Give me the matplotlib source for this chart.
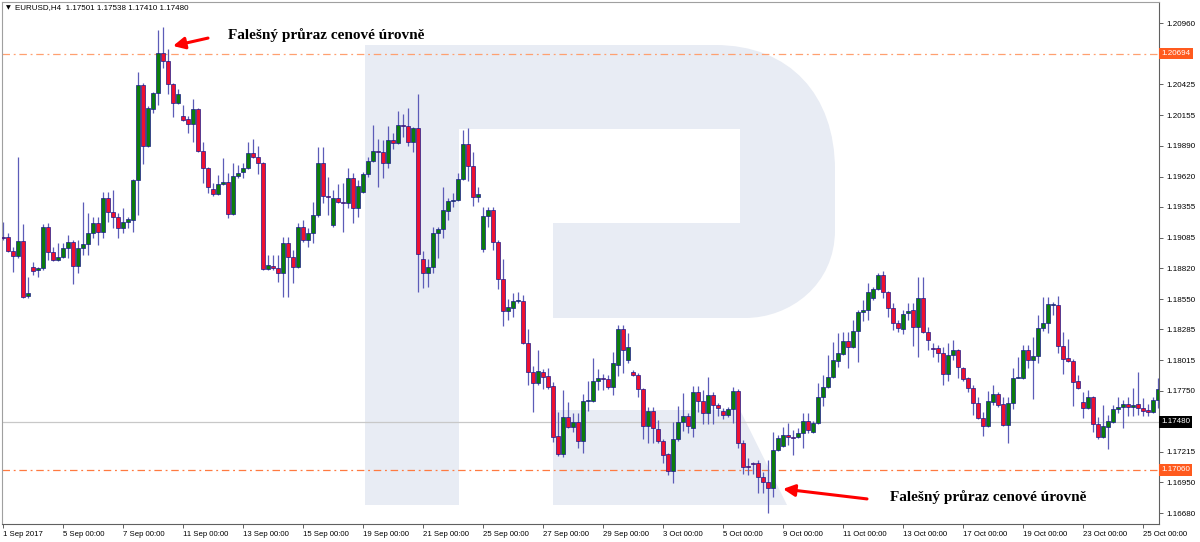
import matplotlib
matplotlib.use("Agg")
import matplotlib.pyplot as plt
import matplotlib.patches as mpatches
import matplotlib.transforms as mtransforms
from matplotlib.path import Path
import numpy as np

plt.rcParams['font.family'] = ['Liberation Sans', 'DejaVu Sans']

# ---------------- data ----------------
symbol = "EURUSD,H4"
header_ohlc = ["1.17501", "1.17538", "1.17410", "1.17480"]

date_labels = ["1 Sep 2017", "5 Sep 00:00", "7 Sep 00:00", "11 Sep 00:00", "13 Sep 00:00",
               "15 Sep 00:00", "19 Sep 00:00", "21 Sep 00:00", "25 Sep 00:00", "27 Sep 00:00",
               "29 Sep 00:00", "3 Oct 00:00", "5 Oct 00:00", "9 Oct 00:00", "11 Oct 00:00",
               "13 Oct 00:00", "17 Oct 00:00", "19 Oct 00:00", "23 Oct 00:00", "25 Oct 00:00"]
bars_per_label = 12  # two trading days of H4 bars between date labels

price_ticks = [1.20960, 1.20425, 1.20155, 1.19890, 1.19620, 1.19355, 1.19085, 1.18820,
               1.18550, 1.18285, 1.18015, 1.17750, 1.17215, 1.16950, 1.16680]
level_top = 1.20694
level_bottom = 1.17060
bid_price = 1.17480
annotation_text = "Falešný průraz cenové úrovně"

opens = [
    1.19092, 1.19092, 1.18970, 1.18927, 1.19057, 1.18577, 1.18830, 1.18804, 1.18821, 1.19179,
    1.18962, 1.18891, 1.18918, 1.18996, 1.19049, 1.18839, 1.18996, 1.19031, 1.19127, 1.19214,
    1.19136, 1.19432, 1.19311, 1.19267, 1.19170, 1.19223, 1.19240, 1.19590, 1.20419, 1.19887,
    1.20210, 1.20349, 1.20699, 1.20628, 1.20428, 1.20262, 1.20149, 1.20122, 1.20078, 1.20209,
    1.19843, 1.19694, 1.19511, 1.19467, 1.19555, 1.19573, 1.19293, 1.19625, 1.19660, 1.19694,
    1.19826, 1.19791, 1.19738, 1.18812, 1.18839, 1.18821, 1.18778, 1.19040, 1.18918, 1.18830,
    1.19179, 1.19066, 1.19127, 1.19284, 1.19738, 1.19450, 1.19196, 1.19432, 1.19398, 1.19389,
    1.19607, 1.19345, 1.19485, 1.19642, 1.19755, 1.19843, 1.19835, 1.19738, 1.19939, 1.19913,
    1.20069, 1.20061, 1.19922, 1.20044, 1.18900, 1.18778, 1.18830, 1.19127, 1.19162, 1.19319,
    1.19406, 1.19415, 1.19599, 1.19904, 1.19712, 1.19441, 1.18988, 1.19275, 1.19328, 1.19049,
    1.18726, 1.18446, 1.18472, 1.18533, 1.18533, 1.18167, 1.17914, 1.17818, 1.17914, 1.17879,
    1.17791, 1.17355, 1.17198, 1.17521, 1.17433, 1.17477, 1.17311, 1.17660, 1.17660, 1.17835,
    1.17861, 1.17852, 1.17783, 1.17975, 1.18289, 1.18018, 1.17914, 1.17887, 1.17765, 1.17442,
    1.17573, 1.17416, 1.17311, 1.17198, 1.17049, 1.17329, 1.17477, 1.17529, 1.17425, 1.17739,
    1.17660, 1.17556, 1.17713, 1.17625, 1.17573, 1.17538, 1.17590, 1.17748, 1.17294, 1.17093,
    1.17119, 1.17119, 1.16997, 1.16953, 1.16901, 1.17233, 1.17268, 1.17363, 1.17346, 1.17346,
    1.17381, 1.17486, 1.17390, 1.17468, 1.17695, 1.17783, 1.17870, 1.18009, 1.18071, 1.18184,
    1.18132, 1.18271, 1.18437, 1.18455, 1.18559, 1.18638, 1.18760, 1.18612, 1.18472, 1.18341,
    1.18289, 1.18428, 1.18455, 1.18306, 1.18559, 1.18263, 1.18123, 1.18123, 1.18079, 1.17896,
    1.18062, 1.18106, 1.17948, 1.17861, 1.17774, 1.17643, 1.17512, 1.17442, 1.17652, 1.17721,
    1.17634, 1.17451, 1.17643, 1.17861, 1.17861, 1.18106, 1.18018, 1.18053, 1.18297, 1.18341,
    1.18498, 1.18498, 1.18141, 1.18036, 1.18009, 1.17835, 1.17652, 1.17599, 1.17695, 1.17460,
    1.17346, 1.17433, 1.17477, 1.17590, 1.17608, 1.17634, 1.17608, 1.17634, 1.17599, 1.17582,
    1.17565, 1.17669]

highs = [
    1.19223, 1.19127, 1.19005, 1.19791, 1.19205, 1.18743, 1.18874, 1.18830, 1.19205, 1.19214,
    1.19005, 1.19040, 1.19040, 1.19109, 1.19066, 1.19066, 1.19398, 1.19302, 1.19267, 1.19267,
    1.19485, 1.19485, 1.19502, 1.19302, 1.19345, 1.19267, 1.19598, 1.20533, 1.20437, 1.20236,
    1.20358, 1.20899, 1.20925, 1.20733, 1.20437, 1.20384, 1.20244, 1.20149, 1.20296, 1.20218,
    1.19922, 1.19703, 1.19564, 1.19633, 1.19782, 1.19651, 1.19738, 1.19720, 1.19738, 1.19922,
    1.19947, 1.19887, 1.19745, 1.18935, 1.18935, 1.18935, 1.19092, 1.19092, 1.18979, 1.19214,
    1.19240, 1.19170, 1.19398, 1.19878, 1.19878, 1.19616, 1.19502, 1.19555, 1.19564, 1.19694,
    1.19651, 1.19590, 1.19660, 1.19791, 1.20069, 1.19947, 1.19939, 1.20061, 1.20000, 1.20192,
    1.20166, 1.20218, 1.20052, 1.20340, 1.18970, 1.18900, 1.19179, 1.19179, 1.19529, 1.19432,
    1.19476, 1.19651, 1.20026, 1.20044, 1.19835, 1.19529, 1.19354, 1.19354, 1.19354, 1.19066,
    1.18900, 1.18551, 1.18603, 1.18612, 1.18586, 1.18289, 1.17966, 1.18106, 1.17940, 1.17948,
    1.17826, 1.17565, 1.17756, 1.17652, 1.17556, 1.17556, 1.17721, 1.17835, 1.18036, 1.17940,
    1.17896, 1.17887, 1.18088, 1.18324, 1.18324, 1.18254, 1.17931, 1.17905, 1.17770, 1.17608,
    1.17608, 1.17494, 1.17329, 1.17207, 1.17477, 1.17617, 1.17730, 1.17556, 1.17791, 1.17791,
    1.17756, 1.17870, 1.17739, 1.17643, 1.17599, 1.17608, 1.17783, 1.17765, 1.17320, 1.17163,
    1.17128, 1.17145, 1.17040, 1.17145, 1.17390, 1.17363, 1.17433, 1.17468, 1.17407, 1.17425,
    1.17556, 1.17556, 1.17486, 1.17818, 1.17887, 1.18062, 1.18175, 1.18254, 1.18263, 1.18263,
    1.18367, 1.18455, 1.18542, 1.18691, 1.18656, 1.18778, 1.18795, 1.18620, 1.18516, 1.18367,
    1.18455, 1.18516, 1.18516, 1.18743, 1.18743, 1.18306, 1.18167, 1.18149, 1.18132, 1.18167,
    1.18193, 1.18110, 1.17957, 1.17870, 1.17800, 1.17695, 1.17565, 1.17748, 1.17800, 1.17739,
    1.17695, 1.17695, 1.17948, 1.18045, 1.18149, 1.18149, 1.18219, 1.18411, 1.18568, 1.18568,
    1.18524, 1.18577, 1.18263, 1.18201, 1.18027, 1.17887, 1.17739, 1.17756, 1.17700, 1.17521,
    1.17625, 1.17538, 1.17625, 1.17695, 1.17669, 1.17695, 1.17774, 1.17914, 1.17686, 1.17634,
    1.17695, 1.17861]

lows = [
    1.19066, 1.18962, 1.18787, 1.18909, 1.18559, 1.18559, 1.18760, 1.18743, 1.18804, 1.18891,
    1.18885, 1.18882, 1.18909, 1.18909, 1.18682, 1.18778, 1.18935, 1.18935, 1.19083, 1.19022,
    1.19083, 1.19223, 1.19170, 1.19083, 1.19127, 1.19170, 1.19136, 1.19284, 1.19729, 1.19880,
    1.20175, 1.20244, 1.20567, 1.20340, 1.20140, 1.20253, 1.20104, 1.20000, 1.19922, 1.19835,
    1.19564, 1.19476, 1.19450, 1.19458, 1.19546, 1.19258, 1.19284, 1.19607, 1.19607, 1.19690,
    1.19782, 1.19642, 1.18804, 1.18804, 1.18804, 1.18700, 1.18568, 1.18568, 1.18691, 1.18825,
    1.19049, 1.19005, 1.19040, 1.19267, 1.19389, 1.19284, 1.19179, 1.19389, 1.19136, 1.19345,
    1.19214, 1.19267, 1.19476, 1.19616, 1.19747, 1.19529, 1.19607, 1.19694, 1.19860, 1.19904,
    1.19965, 1.19887, 1.19835, 1.18612, 1.18647, 1.18656, 1.18778, 1.18909, 1.19083, 1.19240,
    1.19354, 1.19406, 1.19590, 1.19581, 1.19363, 1.19398, 1.18962, 1.19179, 1.18979, 1.18638,
    1.18315, 1.18367, 1.18393, 1.18516, 1.18160, 1.17800, 1.17565, 1.17800, 1.17765, 1.17765,
    1.17303, 1.17180, 1.17172, 1.17425, 1.17390, 1.17250, 1.17207, 1.17573, 1.17652, 1.17756,
    1.17756, 1.17765, 1.17713, 1.17879, 1.17905, 1.17992, 1.17879, 1.17695, 1.17329, 1.17294,
    1.17294, 1.17294, 1.17119, 1.17014, 1.16945, 1.17311, 1.17398, 1.17381, 1.17346, 1.17565,
    1.17460, 1.17460, 1.17460, 1.17529, 1.17503, 1.17521, 1.17468, 1.17250, 1.17023, 1.17014,
    1.17023, 1.16857, 1.16857, 1.16683, 1.16822, 1.17224, 1.17259, 1.17276, 1.17189, 1.17337,
    1.17250, 1.17381, 1.17381, 1.17460, 1.17617, 1.17774, 1.17861, 1.17957, 1.18062, 1.17948,
    1.18123, 1.18001, 1.18359, 1.18367, 1.18542, 1.18629, 1.18559, 1.18393, 1.18280, 1.18263,
    1.18245, 1.18367, 1.18141, 1.18045, 1.18255, 1.18106, 1.18045, 1.18001, 1.17800, 1.17835,
    1.18018, 1.17861, 1.17835, 1.17739, 1.17538, 1.17505, 1.17355, 1.17435, 1.17625, 1.17608,
    1.17442, 1.17294, 1.17590, 1.17861, 1.17855, 1.17948, 1.17678, 1.17992, 1.18271, 1.18254,
    1.18411, 1.18079, 1.17896, 1.18001, 1.17617, 1.17765, 1.17512, 1.17590, 1.17390, 1.17329,
    1.17337, 1.17242, 1.17470, 1.17556, 1.17425, 1.17529, 1.17529, 1.17538, 1.17529, 1.17529,
    1.17556, 1.17599]

closes = [
    1.19085, 1.18970, 1.18927, 1.19057, 1.18568, 1.18603, 1.18795, 1.18821, 1.19179, 1.18962,
    1.18891, 1.18918, 1.18996, 1.19049, 1.18839, 1.18996, 1.19031, 1.19127, 1.19214, 1.19136,
    1.19432, 1.19311, 1.19267, 1.19170, 1.19223, 1.19249, 1.19590, 1.20419, 1.19887, 1.20218,
    1.20349, 1.20699, 1.20628, 1.20428, 1.20262, 1.20340, 1.20113, 1.20078, 1.20209, 1.19843,
    1.19694, 1.19529, 1.19467, 1.19555, 1.19573, 1.19293, 1.19625, 1.19651, 1.19694, 1.19826,
    1.19791, 1.19738, 1.18812, 1.18847, 1.18821, 1.18778, 1.19040, 1.18918, 1.18830, 1.19179,
    1.19066, 1.19127, 1.19284, 1.19738, 1.19450, 1.19441, 1.19432, 1.19398, 1.19389, 1.19607,
    1.19345, 1.19538, 1.19642, 1.19755, 1.19843, 1.19835, 1.19738, 1.19939, 1.19913, 1.20069,
    1.20061, 1.19922, 1.20044, 1.18944, 1.18778, 1.18830, 1.19127, 1.19162, 1.19328, 1.19406,
    1.19415, 1.19599, 1.19904, 1.19712, 1.19441, 1.19467, 1.19275, 1.19328, 1.19049, 1.18726,
    1.18446, 1.18481, 1.18533, 1.18542, 1.18167, 1.17914, 1.17818, 1.17922, 1.17870, 1.17783,
    1.17346, 1.17198, 1.17521, 1.17433, 1.17477, 1.17311, 1.17660, 1.17669, 1.17835, 1.17861,
    1.17852, 1.17783, 1.17992, 1.18289, 1.18106, 1.18132, 1.17887, 1.17765, 1.17442, 1.17573,
    1.17425, 1.17311, 1.17189, 1.17049, 1.17329, 1.17477, 1.17529, 1.17442, 1.17739, 1.17660,
    1.17556, 1.17713, 1.17625, 1.17599, 1.17538, 1.17590, 1.17748, 1.17294, 1.17084, 1.17084,
    1.17110, 1.16997, 1.16953, 1.16901, 1.17233, 1.17337, 1.17363, 1.17346, 1.17340, 1.17381,
    1.17486, 1.17407, 1.17468, 1.17695, 1.17783, 1.17870, 1.18018, 1.18079, 1.18184, 1.18132,
    1.18271, 1.18437, 1.18455, 1.18612, 1.18638, 1.18760, 1.18612, 1.18472, 1.18341, 1.18297,
    1.18420, 1.18446, 1.18306, 1.18559, 1.18263, 1.18193, 1.18114, 1.18079, 1.17896, 1.18062,
    1.18106, 1.17957, 1.17852, 1.17774, 1.17643, 1.17512, 1.17442, 1.17660, 1.17721, 1.17625,
    1.17451, 1.17643, 1.17861, 1.17870, 1.18106, 1.18018, 1.18053, 1.18297, 1.18341, 1.18507,
    1.18507, 1.18141, 1.18027, 1.18009, 1.17826, 1.17774, 1.17599, 1.17695, 1.17460, 1.17346,
    1.17442, 1.17486, 1.17590, 1.17608, 1.17634, 1.17608, 1.17625, 1.17599, 1.17573, 1.17565,
    1.17669, 1.17765]

assert len(opens) == len(highs) == len(lows) == len(closes), (len(opens), len(highs), len(lows), len(closes))

# ---------------- figure ----------------
W, H = 1200, 542
fig = plt.figure(figsize=(W / 100, H / 100), dpi=100)
fig.patch.set_facecolor('white')
ax = fig.add_axes([2 / W, 18 / H, 1157 / W, 522 / H])
ax.set_facecolor('white')

# pixel transform (top-left origin) for decorations
px = mtransforms.Affine2D().scale(1 / W, -1 / H).translate(0, 1) + fig.transFigure

# watermark logo
wm_color = '#e8ecf4'
stem = mpatches.Rectangle((365, 45), 94, 460, transform=px, facecolor=wm_color,
                          edgecolor='none', zorder=0.5)
bowl_verts = [(459, 45), (715, 45), (790, 45), (835, 95), (835, 170), (835, 230),
              (835, 285), (790, 318), (745, 318), (553, 318), (553, 223), (740, 223),
              (740, 129), (459, 129), (459, 45)]
bowl_codes = [Path.MOVETO, Path.LINETO, Path.CURVE4, Path.CURVE4, Path.CURVE4, Path.LINETO,
              Path.CURVE4, Path.CURVE4, Path.CURVE4, Path.LINETO, Path.LINETO, Path.LINETO,
              Path.LINETO, Path.LINETO, Path.CLOSEPOLY]
bowl = mpatches.PathPatch(Path(bowl_verts, bowl_codes), transform=px, facecolor=wm_color,
                          edgecolor='none', zorder=0.5)
leg = mpatches.Polygon([(553, 410), (740, 410), (787, 505), (553, 505)], closed=True,
                       transform=px, facecolor=wm_color, edgecolor='none', zorder=0.5)
for p in (stem, bowl, leg):
    ax.add_patch(p)

o = np.array(opens)
h = np.array(highs)
l = np.array(lows)
c = np.array(closes)
idx = np.arange(len(o))
up = c >= o

# level lines
ax.axhline(level_top, color='#ffa070', lw=0.9, ls=(0, (6, 3, 1.5, 3)), zorder=1.5)
ax.axhline(level_bottom, color='#ff7a40', lw=0.9, ls=(0, (6, 3, 1.5, 3)), zorder=1.5)
ax.axhline(bid_price, color='#c8c8c8', lw=0.9, zorder=1.2)

# candles
ax.vlines(idx, l, h, color='#5c5cb8', lw=0.9, zorder=2)
body_h = np.maximum(np.abs(c - o), 0.000012)
ax.bar(idx, body_h, bottom=np.minimum(o, c), width=0.62,
       color=np.where(up, '#0c7d0c', '#ee1030'), edgecolor='#1a1a8c',
       linewidth=0.5, zorder=3)

ax.set_xlim(-0.2, 231.2)
ax.set_ylim(1.16586, 1.21144)

# axes styling
for side in ('left', 'top'):
    ax.spines[side].set_color('#a0a0a0')
    ax.spines[side].set_linewidth(0.8)
for side in ('right', 'bottom'):
    ax.spines[side].set_color('#606060')
    ax.spines[side].set_linewidth(0.8)

ax.yaxis.tick_right()
ax.set_yticks(price_ticks)
ax.set_yticklabels([f"{v:.5f}" for v in price_ticks])
ax.tick_params(axis='y', direction='out', length=3, width=0.7, color='#606060',
               labelsize=5.8, pad=2, labelcolor='black')

ax.set_xticks(np.arange(len(date_labels)) * bars_per_label)
ax.set_xticklabels(date_labels, ha='left')
ax.tick_params(axis='x', direction='out', length=3, width=0.7, color='#606060',
               labelsize=5.6, pad=2, labelcolor='black')

# price boxes on the scale
blend = mtransforms.blended_transform_factory(ax.transAxes, ax.transData)
for val, fc in ((level_top, '#ff5a1e'), (level_bottom, '#ff5a1e'), (bid_price, '#000000')):
    ax.text(1.0018, val, f"{val:.5f}", transform=blend, ha='left', va='center',
            fontsize=5.8, color='white', clip_on=False, zorder=10,
            bbox=dict(boxstyle='square,pad=0.3', fc=fc, ec='none'))

# annotations
arrow_kw = dict(arrowstyle='-|>,head_length=0.7,head_width=0.35', color='#ff0000',
                lw=2.2, mutation_scale=10, shrinkA=0, shrinkB=0)
ax.annotate('', xy=(34, 1.20760), xytext=(41, 1.20829), arrowprops=arrow_kw, zorder=6)
ax.annotate('', xy=(156, 1.16892), xytext=(172.8, 1.16805), arrowprops=arrow_kw, zorder=6)
ax.text(45, 1.20856, annotation_text, family=['Liberation Serif', 'DejaVu Serif'],
        fontweight='bold', fontsize=11, ha='left', va='center', zorder=6)
ax.text(177.4, 1.16822, annotation_text, family=['Liberation Serif', 'DejaVu Serif'],
        fontweight='bold', fontsize=11, ha='left', va='center', zorder=6)

# header
fig.text(6, 8, "▼", transform=px, family='DejaVu Sans', fontsize=4.5, ha='left', va='center')
fig.text(15, 8, f"{symbol}  " + " ".join(header_ohlc), transform=px, fontsize=5.8,
         ha='left', va='center')

fig.savefig('out.png', dpi=100, facecolor='white')
